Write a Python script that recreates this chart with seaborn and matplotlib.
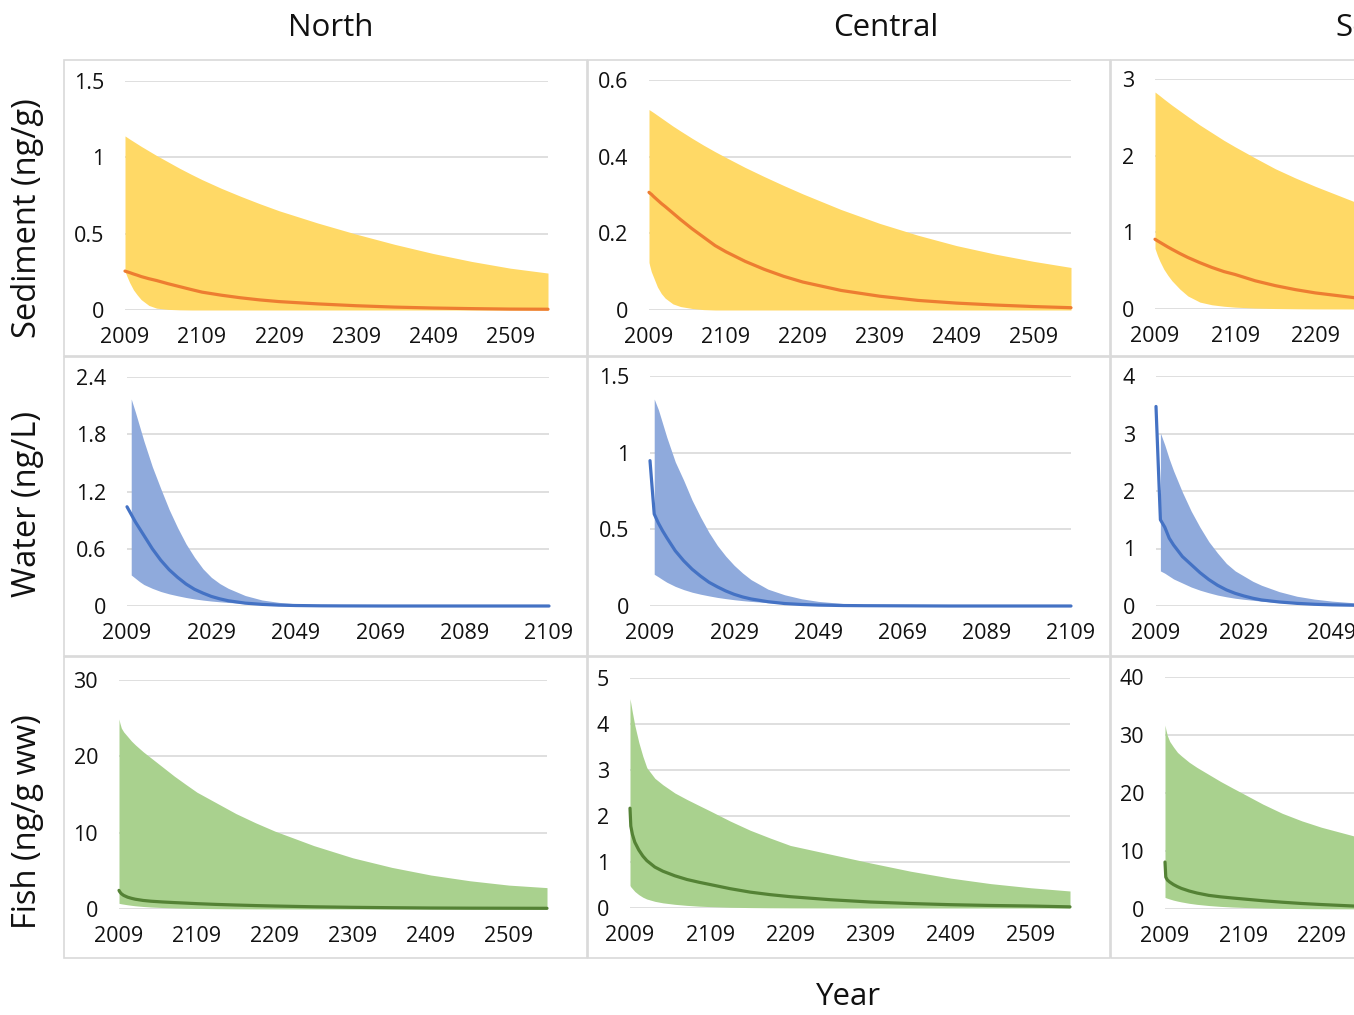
import numpy as np
import pandas as pd
import matplotlib
matplotlib.use("Agg")
import matplotlib.pyplot as plt
from matplotlib.patches import Rectangle
import seaborn as sns

# ---------------- data ----------------
long_years = [2009, 2010, 2012, 2015, 2020, 2025, 2030, 2040, 2050, 2065, 2080, 2095,
              2109, 2134, 2159, 2184, 2209, 2259, 2309, 2359, 2409, 2459, 2509, 2558]
water_years = [2009, 2010, 2011, 2012, 2013, 2015, 2017, 2019, 2021, 2023, 2025,
               2027, 2029, 2031, 2033, 2037, 2041, 2045, 2049, 2055, 2060, 2070,
               2080, 2090, 2100, 2109]

regions = ["North", "Central", "South"]
row_labels = ["Sediment (ng/g)", "Water (ng/L)", "Fish (ng/g ww)"]

# Sediment (ng/g)
sed_north_hi = [1.14, 1.137, 1.130, 1.120, 1.104, 1.088, 1.072, 1.042, 1.012, 0.970, 0.928, 0.889,
                0.854, 0.797, 0.745, 0.696, 0.65, 0.57, 0.497, 0.43, 0.37, 0.318, 0.274, 0.242]
sed_north_lo = [0.255, 0.24, 0.215, 0.18, 0.132, 0.098, 0.068, 0.03, 0.012, 0.004, 0.001, 0,
                0, 0, 0, 0, 0, 0, 0, 0, 0, 0, 0, 0]
sed_north_med = [0.255, 0.253, 0.250, 0.245, 0.236, 0.228, 0.219, 0.205, 0.193, 0.172, 0.153, 0.134,
                 0.117, 0.097, 0.08, 0.066, 0.055, 0.04, 0.028, 0.019, 0.013, 0.009, 0.006, 0.005]

sed_central_hi = [0.523, 0.5216, 0.519, 0.515, 0.508, 0.501, 0.494, 0.480, 0.467, 0.448, 0.430, 0.413,
                  0.398, 0.372, 0.348, 0.325, 0.303, 0.262, 0.226, 0.195, 0.168, 0.146, 0.127, 0.111]
sed_central_lo = [0.124, 0.115, 0.10, 0.085, 0.06, 0.043, 0.031, 0.016, 0.009, 0.004, 0.001, 0,
                  0, 0, 0, 0, 0, 0, 0, 0, 0, 0, 0, 0]
sed_central_med = [0.307, 0.305, 0.302, 0.296, 0.287, 0.278, 0.27, 0.253, 0.236, 0.212, 0.19, 0.168,
                   0.152, 0.127, 0.106, 0.088, 0.073, 0.051, 0.036, 0.025, 0.018, 0.013, 0.009, 0.006]

sed_south_hi = [2.83, 2.822, 2.806, 2.782, 2.74, 2.70, 2.66, 2.585, 2.51, 2.40, 2.30, 2.20,
                2.115, 1.97, 1.83, 1.71, 1.60, 1.395, 1.22, 1.065, 0.93, 0.81, 0.71, 0.62]
sed_south_lo = [0.79, 0.76, 0.70, 0.625, 0.52, 0.44, 0.37, 0.26, 0.17, 0.09, 0.055, 0.036,
                0.024, 0.012, 0.006, 0.003, 0.001, 0, 0, 0, 0, 0, 0, 0]
sed_south_med = [0.91, 0.903, 0.89, 0.871, 0.84, 0.809, 0.78, 0.724, 0.672, 0.604, 0.542, 0.488,
                 0.45, 0.368, 0.305, 0.253, 0.21, 0.146, 0.10, 0.07, 0.049, 0.034, 0.024, 0.017]

# Water (ng/L)  (uncertainty band starts one year after the median)
wat_north_hi = [np.nan, 2.17, 2.03, 1.88, 1.73, 1.46, 1.23, 1.01, 0.82, 0.65, 0.51,
                0.39, 0.30, 0.235, 0.185, 0.11, 0.063, 0.038, 0.023, 0.011, 0.006, 0.002,
                0.001, 0, 0, 0]
wat_north_lo = [np.nan, 0.325, 0.29, 0.255, 0.225, 0.185, 0.152, 0.127, 0.107, 0.089, 0.074,
                0.062, 0.052, 0.044, 0.037, 0.026, 0.017, 0.011, 0.007, 0.004, 0.002, 0.001,
                0, 0, 0, 0]
wat_north_med = [1.04, 0.96, 0.88, 0.81, 0.74, 0.60, 0.48, 0.38, 0.30, 0.23, 0.175,
                 0.135, 0.10, 0.075, 0.055, 0.03, 0.017, 0.009, 0.005, 0.002, 0.001, 0,
                 0, 0, 0, 0]

wat_central_hi = [np.nan, 1.35, 1.28, 1.19, 1.10, 0.94, 0.82, 0.69, 0.58, 0.48, 0.395,
                  0.325, 0.265, 0.215, 0.172, 0.11, 0.073, 0.047, 0.03, 0.016, 0.009, 0.003,
                  0.001, 0, 0, 0]
wat_central_lo = [np.nan, 0.207, 0.19, 0.172, 0.155, 0.128, 0.107, 0.09, 0.077, 0.066, 0.056,
                  0.048, 0.041, 0.035, 0.030, 0.022, 0.015, 0.01, 0.006, 0.003, 0.002, 0.001,
                  0, 0, 0, 0]
wat_central_med = [0.948, 0.60, 0.54, 0.49, 0.445, 0.36, 0.295, 0.24, 0.195, 0.155, 0.125,
                   0.098, 0.076, 0.059, 0.046, 0.028, 0.016, 0.010, 0.006, 0.003, 0.002, 0.001,
                   0, 0, 0, 0]

wat_south_hi = [np.nan, 3.01, 2.80, 2.56, 2.35, 1.98, 1.65, 1.37, 1.12, 0.92, 0.74,
                0.61, 0.52, 0.43, 0.36, 0.25, 0.17, 0.12, 0.085, 0.05, 0.035, 0.015,
                0.007, 0.003, 0.001, 0]
wat_south_lo = [np.nan, 0.61, 0.57, 0.52, 0.47, 0.40, 0.33, 0.275, 0.23, 0.19, 0.16,
                0.135, 0.116, 0.10, 0.085, 0.06, 0.04, 0.027, 0.018, 0.01, 0.006, 0.002,
                0.001, 0, 0, 0]
wat_south_med = [3.47, 1.50, 1.37, 1.18, 1.06, 0.86, 0.72, 0.58, 0.46, 0.36, 0.28,
                 0.22, 0.174, 0.135, 0.105, 0.07, 0.046, 0.03, 0.02, 0.012, 0.008, 0.003,
                 0.001, 0, 0, 0]

# Fish (ng/g ww)
fish_north_hi = [24.9, 24.4, 23.7, 23.2, 22.6, 22.0, 21.5, 20.6, 19.8, 18.6, 17.4, 16.3,
                 15.3, 13.9, 12.5, 11.3, 10.2, 8.3, 6.7, 5.45, 4.45, 3.7, 3.13, 2.8]
fish_north_lo = [0.74, 0.72, 0.68, 0.63, 0.55, 0.48, 0.42, 0.33, 0.26, 0.19, 0.14, 0.10,
                 0.075, 0.045, 0.028, 0.018, 0.012, 0.005, 0.002, 0, 0, 0, 0, 0]
fish_north_med = [2.44, 2.25, 2.0, 1.78, 1.55, 1.40, 1.28, 1.12, 1.02, 0.92, 0.84, 0.77,
                  0.70, 0.60, 0.52, 0.45, 0.39, 0.29, 0.22, 0.17, 0.13, 0.11, 0.10, 0.09]

fish_central_hi = [4.55, 4.45, 4.25, 3.97, 3.60, 3.30, 3.05, 2.82, 2.68, 2.50, 2.36, 2.23,
                   2.11, 1.89, 1.69, 1.52, 1.36, 1.17, 0.98, 0.80, 0.65, 0.53, 0.44, 0.37]
fish_central_lo = [0.49, 0.46, 0.42, 0.36, 0.29, 0.235, 0.195, 0.145, 0.112, 0.08, 0.057, 0.04,
                   0.03, 0.016, 0.009, 0.005, 0.003, 0.001, 0, 0, 0, 0, 0, 0]
fish_central_med = [2.17, 1.78, 1.60, 1.43, 1.26, 1.13, 1.03, 0.89, 0.80, 0.70, 0.62, 0.56,
                    0.51, 0.42, 0.345, 0.29, 0.246, 0.18, 0.13, 0.097, 0.072, 0.055, 0.043, 0.025]

fish_south_hi = [31.7, 31.0, 29.9, 28.9, 27.9, 27.0, 26.4, 25.3, 24.4, 23.2, 22.0, 20.9,
                 19.9, 18.1, 16.5, 15.2, 14.1, 12.3, 10.7, 9.3, 8.1, 7.1, 6.2, 5.4]
fish_south_lo = [2.0, 1.95, 1.85, 1.72, 1.52, 1.36, 1.22, 0.98, 0.80, 0.60, 0.45, 0.34,
                 0.27, 0.17, 0.11, 0.07, 0.045, 0.02, 0.01, 0, 0, 0, 0, 0]
fish_south_med = [8.1, 5.5, 5.0, 4.65, 4.2, 3.85, 3.55, 3.1, 2.75, 2.35, 2.1, 1.9,
                  1.73, 1.43, 1.17, 0.95, 0.77, 0.46, 0.30, 0.20, 0.13, 0.09, 0.06, 0.04]

long_ticks = [2009, 2109, 2209, 2309, 2409, 2509]
water_ticks = [2009, 2029, 2049, 2069, 2089, 2109]
yticks = {
    (0, 0): [0, 0.5, 1, 1.5], (0, 1): [0, 0.2, 0.4, 0.6], (0, 2): [0, 1, 2, 3],
    (1, 0): [0, 0.6, 1.2, 1.8, 2.4], (1, 1): [0, 0.5, 1, 1.5], (1, 2): [0, 1, 2, 3, 4],
    (2, 0): [0, 10, 20, 30], (2, 1): [0, 1, 2, 3, 4, 5], (2, 2): [0, 10, 20, 30, 40],
}

series = {
    (0, 0): (sed_north_lo, sed_north_hi, sed_north_med),
    (0, 1): (sed_central_lo, sed_central_hi, sed_central_med),
    (0, 2): (sed_south_lo, sed_south_hi, sed_south_med),
    (1, 0): (wat_north_lo, wat_north_hi, wat_north_med),
    (1, 1): (wat_central_lo, wat_central_hi, wat_central_med),
    (1, 2): (wat_south_lo, wat_south_hi, wat_south_med),
    (2, 0): (fish_north_lo, fish_north_hi, fish_north_med),
    (2, 1): (fish_central_lo, fish_central_hi, fish_central_med),
    (2, 2): (fish_south_lo, fish_south_hi, fish_south_med),
}

fill_colors = ["#FFD966", "#8FAADC", "#A9D18E"]
line_colors = ["#ED7D31", "#4472C4", "#548235"]

# ---------------- layout (pixels) ----------------
W, H = 1354, 1015
sns.set_theme(style="white")
plt.rcParams["font.family"] = ["Open Sans", "DejaVu Sans"]

fig = plt.figure(figsize=(W / 100, H / 100), dpi=100)
fig.patch.set_facecolor("white")

def frac(x0, y0, x1, y1):
    return [x0 / W, 1 - y1 / H, (x1 - x0) / W, (y1 - y0) / H]

box_x = [(64, 587), (588, 1110), (1111, 1640)]
box_y = [(60, 356), (357, 656), (657, 958)]
for (bx0, bx1) in box_x:
    for (by0, by1) in box_y:
        fig.add_artist(Rectangle((bx0 / W, 1 - by1 / H), (bx1 - bx0) / W, (by1 - by0) / H,
                                 transform=fig.transFigure, fill=False,
                                 edgecolor="#D9D9D9", lw=1.2))

# plot-area pixel boxes: (x_left, y_top, x_right, y_bottom)
areas = {
    (0, 0): (125, 81, 548, 310), (0, 1): (649, 80, 1071, 310), (0, 2): (1155, 79, 1595, 309),
    (1, 0): (127, 377, 549, 606), (1, 1): (650, 376, 1071, 606), (1, 2): (1156, 376, 1596, 606),
    (2, 0): (119, 680, 547, 909), (2, 1): (630, 678, 1070, 908), (2, 2): (1165, 677, 1594, 909),
}

txt = "#111111"
for r in range(3):
    for c in range(3):
        ax = fig.add_axes(frac(*areas[(r, c)]))
        years = water_years if r == 1 else long_years
        lo, hi, med = series[(r, c)]
        df = pd.DataFrame({"Year": years, "lo": lo, "hi": hi, "med": med})
        band = df.dropna()
        ax.fill_between(band["Year"], band["lo"], band["hi"], color=fill_colors[r],
                        lw=0, clip_on=False, zorder=2)
        sns.lineplot(data=df, x="Year", y="med", ax=ax, color=line_colors[r], lw=2.3,
                     clip_on=False, zorder=3)
        ax.set_xlim(years[0], years[-1])
        yt = yticks[(r, c)]
        ax.set_ylim(0, yt[-1])
        ax.set_yticks(yt)
        ax.set_yticklabels(["{:g}".format(v) for v in yt])
        xt = water_ticks if r == 1 else long_ticks
        ax.set_xticks(xt)
        ax.set_xticklabels([str(v) for v in xt])
        ax.set_xlabel("")
        ax.set_ylabel("")
        ax.yaxis.grid(True, color="#D9D9D9", lw=1.2)
        ax.xaxis.grid(False)
        ax.set_axisbelow(True)
        for s in ax.spines.values():
            s.set_visible(False)
        ax.tick_params(axis="y", length=0, pad=15, labelsize=15.5, labelcolor=txt)
        ax.tick_params(axis="x", length=0, pad=12, labelsize=15.5, labelcolor=txt)
        ax.set_facecolor("none")

# column titles
fig.text(331 / W, 1 - 28 / H, "North", ha="center", va="center", fontsize=22.5, color=txt)
fig.text(886 / W, 1 - 28 / H, "Central", ha="center", va="center", fontsize=22.5, color=txt)
fig.text(1335 / W, 1 - 28 / H, "South", ha="left", va="center", fontsize=22.5, color=txt)

# row labels
for lab, yc in zip(row_labels, [218, 504, 822]):
    fig.text(28 / W, 1 - yc / H, lab, ha="center", va="center", rotation=90,
             fontsize=23.5, color=txt)

fig.text(848 / W, 1 - 997 / H, "Year", ha="center", va="center", fontsize=22.5, color=txt)

fig.savefig("out.png", dpi=100, facecolor="white")
